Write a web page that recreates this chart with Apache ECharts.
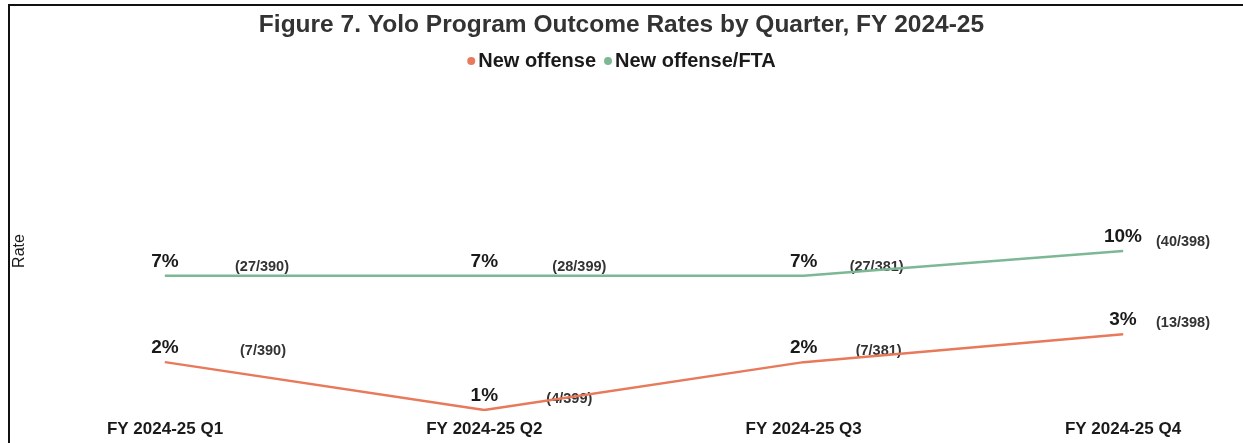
<!DOCTYPE html>
<html>
<head>
<meta charset="utf-8">
<script src="https://cdn.jsdelivr.net/npm/echarts@6/dist/echarts.min.js"></script>
<style>
  html, body { margin: 0; padding: 0; background: #fff; }
  #chart { width: 1243px; height: 443px; }
</style>
</head>
<body>
<div id="chart"></div>
<script>
var quarters = ['FY 2024-25 Q1', 'FY 2024-25 Q2', 'FY 2024-25 Q3', 'FY 2024-25 Q4'];
var newOffense = [2, 1, 2, 3];
var newOffenseCounts = ['(7/390)', '(4/399)', '(7/381)', '(13/398)'];
var newOffenseFta = [7, 7, 7, 10];
var newOffenseFtaCounts = ['(27/390)', '(28/399)', '(27/381)', '(40/398)'];

// horizontal shift of the count labels (style only)
var offenseShift = [98, 85, 75, 60];
var ftaShift = [97, 95, 73, 60];

var chart = echarts.init(document.getElementById('chart'));
var font = 'Liberation Sans, Arial, sans-serif';

function countSeries(name, values, counts, shift, dy) {
	return {
		name: name + ' counts',
		type: 'line',
		data: values.map(function (v, i) {
			return {
				value: v,
				label: { formatter: counts[i], offset: [shift[i], dy] }
			};
		}),
		symbol: 'circle',
		symbolSize: 1,
		itemStyle: { color: 'rgba(0,0,0,0)' },
		lineStyle: { opacity: 0 },
		silent: true,
		label: {
			show: true,
			position: 'top',
			distance: 4,
			fontSize: 14.5,
			fontWeight: 'bold',
			fontFamily: font,
			color: '#333'
		},
		z: 1
	};
}

var pctLabel = {
	show: true,
	position: 'top',
	distance: 4,
	formatter: '{c}%',
	fontSize: 19,
	fontWeight: 'bold',
	fontFamily: font,
	color: '#1a1a1a'
};

option = {
	backgroundColor: '#fff',
	title: {
		text: 'Figure 7. Yolo Program Outcome Rates by Quarter, FY 2024-25',
		left: 'center',
		top: 8,
		textStyle: {
			fontSize: 24.5,
			fontWeight: 'bold',
			fontFamily: font,
			color: '#333'
		}
	},
	legend: {
		data: ['New offense', 'New offense/FTA'],
		top: 46,
		left: 'center',
		icon: 'circle',
		itemWidth: 8,
		itemHeight: 8,
		itemGap: 8,
		textStyle: {
			fontSize: 20,
			fontWeight: 'bold',
			fontFamily: font,
			color: '#1a1a1a',
			padding: [0, 0, 0, -2]
		}
	},
	grid: { left: 165, right: 120, top: 92, bottom: 33 },
	xAxis: {
		type: 'category',
		data: quarters,
		boundaryGap: false,
		axisLine: { show: false },
		axisTick: { show: false },
		axisLabel: {
			margin: 11,
			fontSize: 17,
			fontWeight: 'bold',
			fontFamily: font,
			color: '#1a1a1a'
		}
	},
	yAxis: {
		type: 'log',
		logBase: 10,
		min: 1,
		max: 100,
		name: 'Rate',
		nameLocation: 'middle',
		nameGap: 137,
		nameTextStyle: {
			fontSize: 16,
			fontFamily: font,
			color: '#1a1a1a'
		},
		axisLine: { show: false },
		axisTick: { show: false },
		axisLabel: { show: false },
		splitLine: { show: false }
	},
	graphic: [
		{ type: 'line', shape: { x1: 8, y1: 5, x2: 1243, y2: 5 }, style: { stroke: '#111', lineWidth: 2 } },
		{ type: 'line', shape: { x1: 9, y1: 5, x2: 9, y2: 443 }, style: { stroke: '#111', lineWidth: 2 } }
	],
	series: [
		{
			name: 'New offense',
			type: 'line',
			data: newOffense,
			symbol: 'circle',
			symbolSize: 1,
			color: '#E8795A',
			lineStyle: { width: 2.5, color: '#E8795A' },
			label: pctLabel,
			z: 3
		},
		{
			name: 'New offense/FTA',
			type: 'line',
			data: newOffenseFta,
			symbol: 'circle',
			symbolSize: 1,
			color: '#7DB895',
			lineStyle: { width: 2.5, color: '#7DB895' },
			label: pctLabel,
			z: 3
		},
		countSeries('New offense', newOffense, newOffenseCounts, offenseShift, 1),
		countSeries('New offense/FTA', newOffenseFta, newOffenseFtaCounts, ftaShift, 3)
	]
};

chart.setOption(option);
window.addEventListener('resize', function () {
	chart.resize();
});
</script>
</body>
</html>
